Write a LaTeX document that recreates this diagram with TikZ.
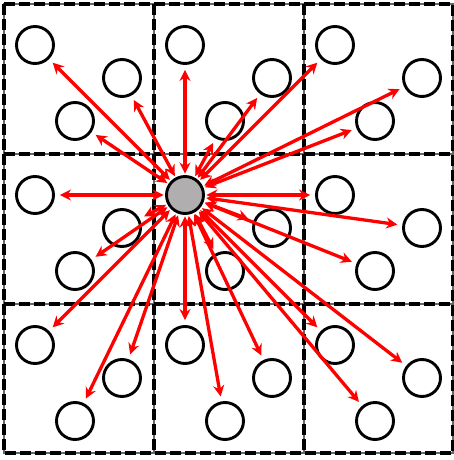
\documentclass[tikz,border=0pt]{standalone}
\usepackage{xcolor}
\usepackage{tikz}
\usetikzlibrary{arrows.meta, positioning}
\definecolor{nodegray}{RGB}{176, 174, 174}
\definecolor{linkred}{RGB}{255, 0, 0}
\tikzset{
    cellline/.style={line width=1.4pt, black!60},
    celldash/.style={line width=4pt, dash pattern=on 11pt off 4pt},
    particle/.style={circle, draw=black, fill=white, line width=2.9pt, minimum size=37pt, inner sep=0pt},
    centre/.style={particle, fill=nodegray},
    link/.style={draw=linkred, line width=3.3pt, {Stealth[length=11pt,width=11pt]}-{Stealth[length=11pt,width=11pt]}, shorten <=1.5pt, shorten >=5pt}
}

\begin{document}
\begin{tikzpicture}[x=1pt, y=-1pt]
    \useasboundingbox (0,0) rectangle (454,460);

    % cell boundaries
    \draw [cellline] (4,4) rectangle (453,453);
    \draw [cellline] (154,4) -- (154,453) (304,4) -- (304,453) (4,154) -- (453,154) (4,304) -- (453,304);
    \draw [celldash] (4,4) rectangle (453,453);
    \draw [celldash] (154,4) -- (154,453) (304,4) -- (304,453) (4,154) -- (453,154) (4,304) -- (453,304);

    % particles, three per cell
    \node (nw1) [particle] at (35,45) {};
    \node (nw2) [particle] at (122,78) {};
    \node (nw3) [particle] at (75,121) {};
    \node (n1) [particle] at (185,45) {};
    \node (n2) [particle] at (272,78) {};
    \node (n3) [particle] at (225,121) {};
    \node (ne1) [particle] at (335,45) {};
    \node (ne2) [particle] at (422,78) {};
    \node (ne3) [particle] at (375,121) {};

    \node (w1) [particle] at (35,195) {};
    \node (w2) [particle] at (122,228) {};
    \node (w3) [particle] at (75,271) {};
    \node (src) [centre] at (185,195) {};
    \node (c2) [particle] at (272,228) {};
    \node (c3) [particle] at (225,271) {};
    \node (e1) [particle] at (335,195) {};
    \node (e2) [particle] at (422,228) {};
    \node (e3) [particle] at (375,271) {};

    \node (sw1) [particle] at (35,345) {};
    \node (sw2) [particle] at (122,378) {};
    \node (sw3) [particle] at (75,421) {};
    \node (s1) [particle] at (185,345) {};
    \node (s2) [particle] at (272,378) {};
    \node (s3) [particle] at (225,421) {};
    \node (se1) [particle] at (335,345) {};
    \node (se2) [particle] at (422,378) {};
    \node (se3) [particle] at (375,421) {};

    % interactions with the grey particle
    \draw [link] (src) -- (nw1);
    \draw [link] (src) -- (nw2);
    \draw [link] (src) -- (nw3);
    \draw [link] (src) -- (n1);
    \draw [link] (src) -- (n2);
    \draw [link] (src) -- (n3);
    \draw [link] (src) -- (ne1);
    \draw [link] (src) -- (ne2);
    \draw [link] (src) -- (ne3);
    \draw [link] (src) -- (w1);
    \draw [link] (src) -- (w2);
    \draw [link] (src) -- (w3);
    \draw [link] (src) -- (c2);
    \draw [link] (src) -- (c3);
    \draw [link] (src) -- (e1);
    \draw [link] (src) -- (e2);
    \draw [link] (src) -- (e3);
    \draw [link] (src) -- (sw1);
    \draw [link] (src) -- (sw2);
    \draw [link] (src) -- (sw3);
    \draw [link] (src) -- (s1);
    \draw [link] (src) -- (s2);
    \draw [link] (src) -- (s3);
    \draw [link] (src) -- (se1);
    \draw [link] (src) -- (se2);
    \draw [link] (src) -- (se3);
\end{tikzpicture}
\end{document}
